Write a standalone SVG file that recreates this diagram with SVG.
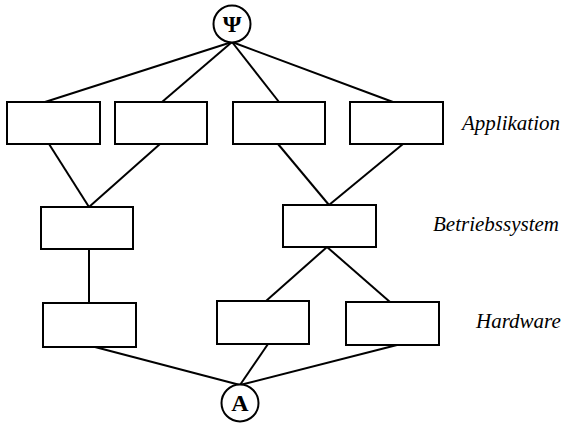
<svg xmlns="http://www.w3.org/2000/svg" width="567" height="423" viewBox="0 0 567 423">
<style>
.box{fill:#fff;stroke:#000;stroke-width:2}
.circ{fill:#fff;stroke:#000;stroke-width:2}
.sym{font-family:"Liberation Serif","Times New Roman",serif;font-weight:bold;font-size:24px;text-anchor:middle;fill:#000}
.lbl{font-family:"Liberation Serif","Times New Roman",serif;font-style:italic;font-size:21px;fill:#000}
#connectors line{stroke:#000;stroke-width:2}
</style>
<rect width="567" height="423" fill="#fff"/>
<g id="connectors">
<line x1="232" y1="42" x2="45" y2="102"/>
<line x1="232" y1="42" x2="162" y2="102"/>
<line x1="232" y1="42" x2="279" y2="102"/>
<line x1="232" y1="42" x2="393" y2="102"/>
<line x1="49" y1="144" x2="89" y2="207"/>
<line x1="160" y1="144" x2="89" y2="207"/>
<line x1="278" y1="144" x2="329" y2="205"/>
<line x1="403" y1="144" x2="329" y2="205"/>
<line x1="89" y1="249" x2="89" y2="303"/>
<line x1="327" y1="247" x2="266" y2="301"/>
<line x1="327" y1="247" x2="390" y2="302"/>
<line x1="95" y1="347" x2="240" y2="385"/>
<line x1="268" y1="344" x2="240" y2="385"/>
<line x1="397" y1="345" x2="240" y2="385"/>
</g>
<g id="psi">
<circle class="circ" cx="232" cy="24" r="18.5"/>
<text class="sym" x="232" y="32">Ψ</text>
</g>
<g id="app1"><rect class="box" x="7" y="102" width="93" height="42"/></g>
<g id="app2"><rect class="box" x="115" y="102" width="92" height="42"/></g>
<g id="app3"><rect class="box" x="233" y="102" width="92" height="42"/></g>
<g id="app4"><rect class="box" x="350" y="102" width="93" height="42"/></g>
<g id="os1"><rect class="box" x="41" y="207" width="92" height="42"/></g>
<g id="os2"><rect class="box" x="283" y="205" width="93" height="42"/></g>
<g id="hw1"><rect class="box" x="43" y="303" width="93" height="44"/></g>
<g id="hw2"><rect class="box" x="217" y="301" width="92" height="43"/></g>
<g id="hw3"><rect class="box" x="346" y="302" width="93" height="43"/></g>
<g id="a">
<circle class="circ" cx="240" cy="403" r="18.5"/>
<text class="sym" x="240" y="411">A</text>
</g>
<g id="labels">
<text class="lbl" x="462" y="130">Applikation</text>
<text class="lbl" x="433" y="231">Betriebssystem</text>
<text class="lbl" x="476" y="328">Hardware</text>
</g>
</svg>
